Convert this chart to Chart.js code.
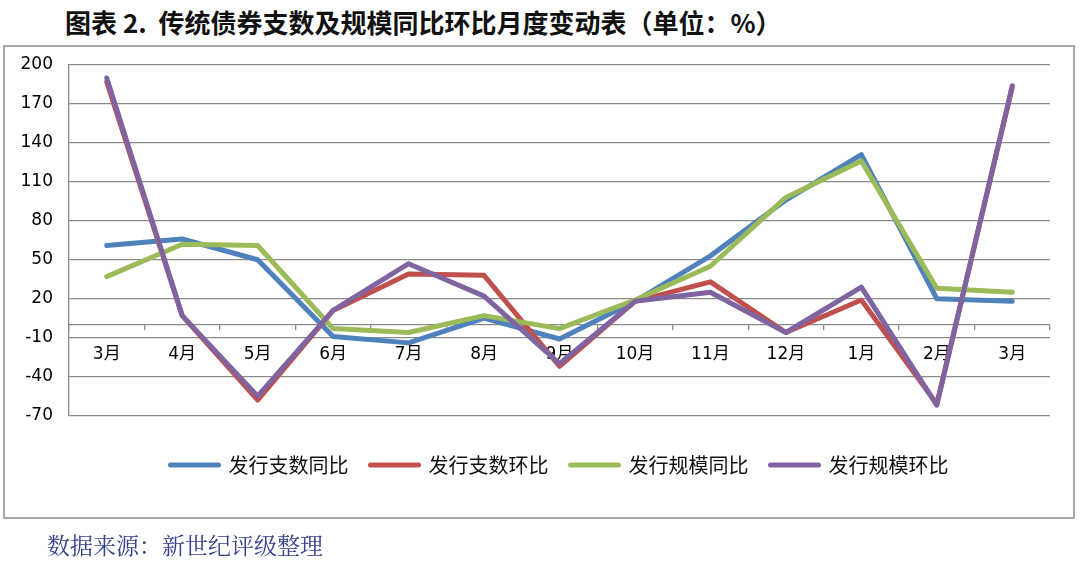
<!DOCTYPE html>
<html>
<head>
<meta charset="utf-8">
<script src="https://cdn.jsdelivr.net/npm/chart.js@4"></script>
<style>
  body { margin: 0; background: #fff; }
  #wrap { position: relative; width: 1080px; height: 566px; overflow: hidden; }
  #title {
    position: absolute; left: 65px; top: 3px;
    font: bold 26px "Noto Sans CJK SC", sans-serif; color: #111; white-space: pre;
  }
  #box {
    position: absolute; left: 3px; top: 45px; width: 1068px; height: 470px;
    border: 2px solid #a8a8a8;
  }
  #src {
    position: absolute; left: 47px; top: 528px;
    font: 23px "Noto Serif CJK SC", "Noto Sans CJK SC", serif; color: #36408c;
  }
  canvas { position: absolute; left: 0; top: 0; }
</style>
</head>
<body>
<div id="wrap">
  <div id="title">图表 2.  传统债券支数及规模同比环比月度变动表（单位：%）</div>
  <div id="box"></div>
  <canvas id="chart" width="1080" height="566"></canvas>
  <div id="src">数据来源：新世纪评级整理</div>
</div>
<script>
// 月份
const months = ["3月", "4月", "5月", "6月", "7月", "8月", "9月", "10月", "11月", "12月", "1月", "2月", "3月"];
// 纵轴刻度
const yTicks = [-70, -40, -10, 20, 50, 80, 110, 140, 170, 200];

const zhiShuTongBi = [61, 66, 50, -9, -14, 5, -11, 18, 53, 96, 131, 20, 18];   // 发行支数同比
const zhiShuHuanBi = [187, 7, -58, 11, 39, 38, -32, 18, 33, -6, 19, -61, 183];  // 发行支数环比
const guiMoTongBi  = [37, 62, 61, -3, -6, 7, -3, 19, 45, 98, 126, 28, 25];     // 发行规模同比
const guiMoHuanBi  = [190, 7, -55, 11, 47, 22, -30, 18, 25, -6, 29, -62, 184];  // 发行规模环比

const grey = "#8a8a8a";

function seri(label, data, color, order) {
  return {
    label: label,
    data: data,
    borderColor: color,
    backgroundColor: color,
    borderWidth: 5,
    pointRadius: 0,
    tension: 0,
    borderCapStyle: "round",
    borderJoinStyle: "round",
    order: order
  };
}

new Chart(document.getElementById("chart"), {
  type: "line",
  data: {
    labels: months,
    datasets: [
      seri("发行支数同比", zhiShuTongBi, "#4F81BD", 3),
      seri("发行支数环比", zhiShuHuanBi, "#C0504D", 2),
      seri("发行规模同比", guiMoTongBi, "#9BBB59", 1),
      seri("发行规模环比", guiMoHuanBi, "#8064A2", 0)
    ]
  },
  options: {
    responsive: false,
    animation: false,
    layout: { padding: { left: 9, right: 30, top: 65, bottom: 81 } },
    plugins: {
      tooltip: { enabled: false },
      legend: {
        position: "bottom",
        fullSize: false,
        title: { display: true, text: "", font: { size: 2 }, padding: { top: 15, bottom: 0 } },
        labels: {
          sort: (a, b) => a.datasetIndex - b.datasetIndex,
          boxWidth: 48,
          boxHeight: 0,
          padding: 22,
          color: "#111",
          font: { family: "'Noto Sans CJK SC', sans-serif", size: 20 }
        }
      }
    },
    scales: {
      x: {
        position: { y: 0 },
        offset: true,
        grid: { drawOnChartArea: false, drawTicks: true, tickLength: 5, offset: true, color: grey, lineWidth: 1.3 },
        border: { color: grey, width: 1.3 },
        ticks: {
          color: "#000",
          padding: 15,
          maxRotation: 0,
          autoSkip: false,
          font: { family: "'DejaVu Sans', 'Noto Sans CJK SC', sans-serif", size: 17 }
        }
      },
      y: {
        min: -70,
        max: 200,
        afterBuildTicks: (s) => { s.ticks = yTicks.map(v => ({ value: v })); },
        afterFit: (s) => { s.width = 60; },
        grid: { color: grey, lineWidth: 1.3, drawTicks: false },
        border: { color: grey, width: 1.3 },
        ticks: {
          color: "#000",
          padding: 16,
          font: { family: "'DejaVu Sans', sans-serif", size: 17 }
        }
      }
    }
  }
});
</script>
</body>
</html>
